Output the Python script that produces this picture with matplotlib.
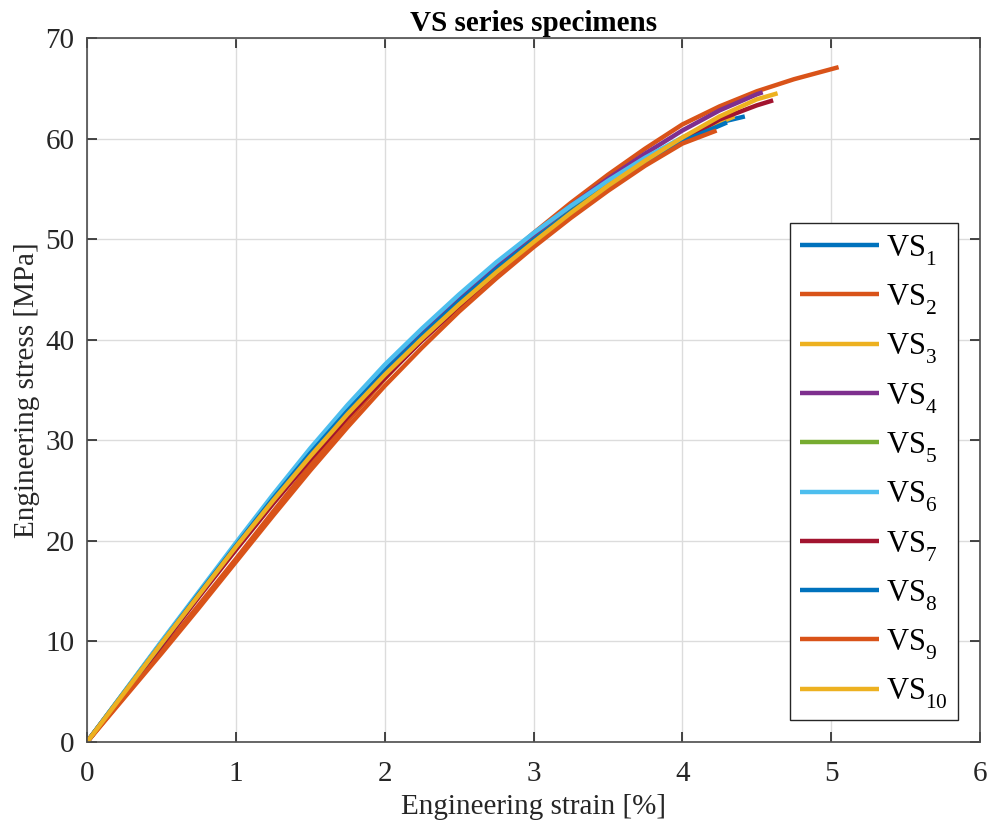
import matplotlib
matplotlib.use("Agg")
import matplotlib.pyplot as plt

try:
    import matplotlib._mathtext as _mt
    _mt.FontConstantsBase.sub1 = 0.6
    _mt.FontConstantsBase.sub2 = 0.75
except Exception:
    pass

plt.rcParams['font.family'] = ['Liberation Serif', 'DejaVu Serif']
plt.rcParams['mathtext.fontset'] = 'custom'
plt.rcParams['mathtext.rm'] = 'Liberation Serif'
plt.rcParams['mathtext.it'] = 'Liberation Serif:italic'

labels = ['VS$_{1}$', 'VS$_{2}$', 'VS$_{3}$', 'VS$_{4}$', 'VS$_{5}$',
          'VS$_{6}$', 'VS$_{7}$', 'VS$_{8}$', 'VS$_{9}$', 'VS$_{10}$']
colors = ['#0072BD', '#D95319', '#EDB120', '#7E2F8E', '#77AC30',
          '#4DBEEE', '#A2142F', '#0072BD', '#D95319', '#EDB120']

grid_x = [0, 0.25, 0.5, 0.75, 1.0, 1.25, 1.5, 1.75, 2.0, 2.25, 2.5, 2.75,
          3.0, 3.25, 3.5, 3.75, 4.0, 4.25, 4.5, 4.75]

vs1_x = grid_x[:18] + [4.42]
vs1_y = [0, 4.95, 9.9, 14.8, 19.6, 24.3, 28.8, 33.0, 37.0, 40.6, 44.0, 47.2,
         50.1, 52.9, 55.5, 57.9, 60.0, 61.6, 62.2]
vs2_x = grid_x[:20] + [5.05]
vs2_y = [0, 4.5, 9.0, 13.6, 18.2, 22.9, 27.5, 31.9, 36.1, 40.1, 43.9, 47.4,
         50.6, 53.6, 56.4, 59.0, 61.4, 63.2, 64.7, 65.9, 67.1]
vs3_x = grid_x[:18] + [4.35]
vs3_y = [0, 4.9, 9.8, 14.6, 19.4, 24.0, 28.4, 32.6, 36.5, 40.1, 43.5, 46.7,
         49.7, 52.6, 55.2, 57.6, 59.8, 61.6, 62.2]
vs4_x = grid_x[:19] + [4.54]
vs4_y = [0, 4.9, 9.8, 14.6, 19.4, 24.0, 28.5, 32.8, 36.8, 40.5, 44.0, 47.3,
         50.4, 53.3, 56.0, 58.5, 60.8, 62.8, 64.4, 64.6]
vs5_x = grid_x[:17] + [4.1]
vs5_y = [0, 4.95, 9.9, 14.7, 19.5, 24.1, 28.6, 32.8, 36.7, 40.3, 43.7, 46.9,
         49.9, 52.7, 55.3, 57.7, 59.8, 60.6]
vs6_x = grid_x[:17] + [4.15]
vs6_y = [0, 5.0, 10.0, 14.9, 19.8, 24.6, 29.2, 33.5, 37.5, 41.1, 44.5, 47.7,
         50.6, 53.3, 55.8, 58.1, 60.1, 61.1]
vs7_x = grid_x[:19] + [4.61]
vs7_y = [0, 4.8, 9.6, 14.4, 19.1, 23.7, 28.1, 32.3, 36.2, 39.9, 43.3, 46.5,
         49.5, 52.3, 55.0, 57.5, 59.8, 61.9, 63.3, 63.8]
vs8_x = grid_x[:17] + [4.3]
vs8_y = [0, 4.9, 9.8, 14.7, 19.5, 24.2, 28.7, 32.9, 36.8, 40.4, 43.8, 47.0,
         49.9, 52.7, 55.2, 57.6, 59.7, 61.6]
vs9_x = grid_x[:17] + [4.23]
vs9_y = [0, 4.4, 8.8, 13.3, 17.9, 22.5, 27.0, 31.3, 35.4, 39.2, 42.8, 46.1,
         49.2, 52.1, 54.8, 57.3, 59.5, 60.8]
vs10_x = grid_x[:19] + [4.64]
vs10_y = [0, 4.9, 9.8, 14.6, 19.4, 24.0, 28.4, 32.6, 36.5, 40.1, 43.5, 46.7,
          49.7, 52.6, 55.3, 57.8, 60.1, 62.2, 63.9, 64.5]

series_x = [vs1_x, vs2_x, vs3_x, vs4_x, vs5_x, vs6_x, vs7_x, vs8_x, vs9_x, vs10_x]
series_y = [vs1_y, vs2_y, vs3_y, vs4_y, vs5_y, vs6_y, vs7_y, vs8_y, vs9_y, vs10_y]

x_ticks = [0, 1, 2, 3, 4, 5, 6]
y_ticks = [0, 10, 20, 30, 40, 50, 60, 70]

fig = plt.figure(figsize=(9.9, 8.24), dpi=100)
ax = fig.add_axes([0.0879, 0.0995, 0.902, 0.8544])

for xs, ys, c, lab in zip(series_x, series_y, colors, labels):
    ax.plot(xs, ys, color=c, lw=3.2, label=lab, solid_capstyle='butt',
            solid_joinstyle='round')

ax.set_xlim(0, 6)
ax.set_ylim(0, 70)
ax.set_xticks(x_ticks)
ax.set_yticks(y_ticks)
ax.grid(True, color='#dcdcdc', lw=1.0)
ax.set_axisbelow(True)
ax.tick_params(direction='in', length=7, width=1.2, labelsize=21,
               top=True, right=True, colors='#262626', labelcolor='#262626')
for s in ax.spines.values():
    s.set_color('#4d4d4d')
    s.set_linewidth(1.2)
ax.tick_params(axis='x', pad=14)
ax.tick_params(axis='y', pad=9)

ax.set_xlabel('Engineering strain [%]', fontsize=21, color='#262626', labelpad=5)
ax.set_ylabel('Engineering stress [MPa]', fontsize=21, color='#262626', labelpad=4)
ax.set_title('VS series specimens', fontsize=21, fontweight='bold', pad=5)

leg = ax.legend(loc='lower right', bbox_to_anchor=(0.975, 0.031), fontsize=22,
                handlelength=2.6, labelspacing=0.5, frameon=True, fancybox=False,
                borderpad=0.32, handletextpad=0.22, borderaxespad=0)
leg.get_frame().set_edgecolor('#262626')
leg.get_frame().set_linewidth(1.0)
leg.get_frame().set_alpha(1)

fig.savefig('out.png', dpi=100)
